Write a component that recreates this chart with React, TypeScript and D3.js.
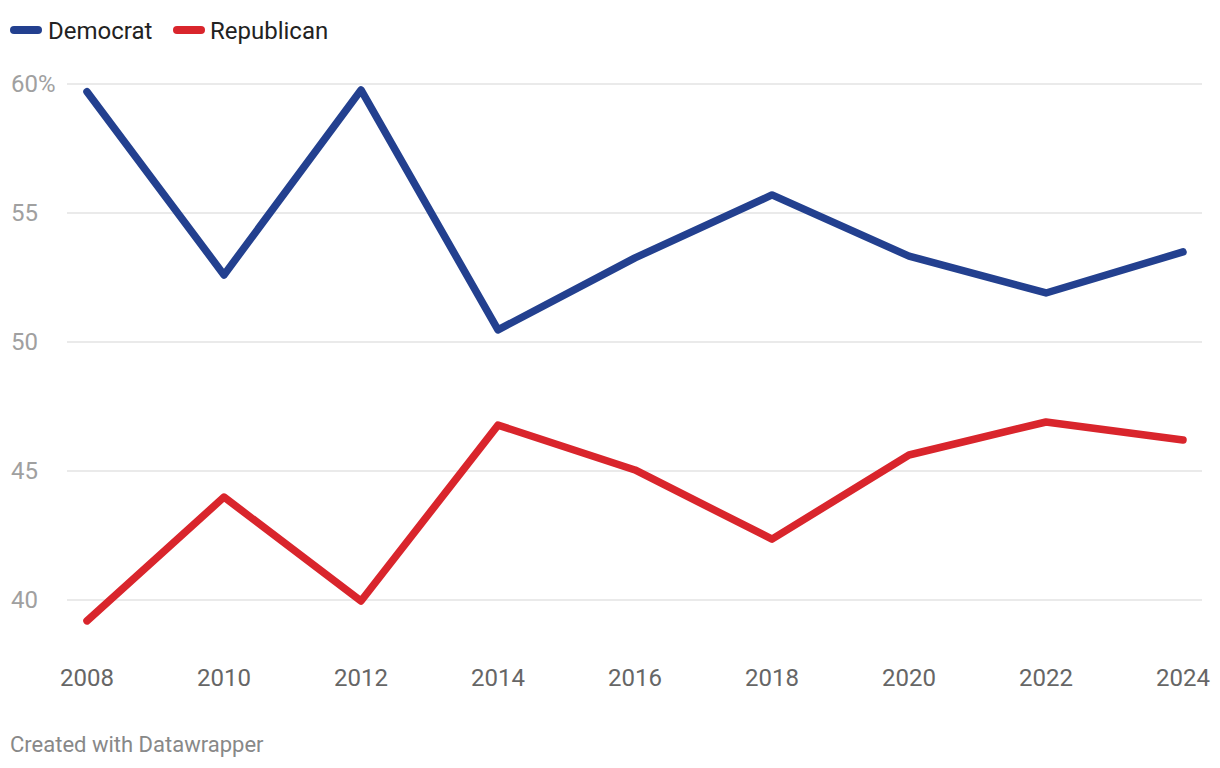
import React from "react";
import * as d3 from "d3";

const years = [2008, 2010, 2012, 2014, 2016, 2018, 2020, 2022, 2024];
const democrat = [59.7, 52.6, 59.77, 50.47, 53.26, 55.7, 53.33, 51.9, 53.49];
const republican = [39.19, 43.99, 39.96, 46.78, 45.04, 42.36, 45.62, 46.9, 46.2];
const yTicks = [40, 45, 50, 55, 60];

const W = 1220;
const H = 768;
const BLUE = "#23408f";
const RED = "#d9252c";

export default function App() {
  const x = d3.scaleLinear().domain([2008, 2024]).range([87, 1183]);
  const y = d3.scaleLinear().domain([40, 60]).range([600, 84]);
  const line = d3
    .line<number>()
    .x((_, i) => x(years[i]))
    .y((d) => y(d));
  const font = "Roboto, 'Noto Sans', sans-serif";
  return (
    <svg
      width={W}
      height={H}
      style={{ position: "absolute", left: 0, top: 0, background: "#fff" }}
      fontFamily={font}
    >
      {/* legend */}
      <line x1={14} x2={38} y1={30} y2={30} stroke={BLUE} strokeWidth={8} strokeLinecap="round" />
      <text x={48} y={38.5} fontSize={24} fill="#222">Democrat</text>
      <line x1={177} x2={201} y1={30} y2={30} stroke={RED} strokeWidth={8} strokeLinecap="round" />
      <text x={210} y={38.5} fontSize={24} fill="#222">Republican</text>

      {/* grid */}
      {yTicks.map((t) => (
        <g key={t}>
          <line x1={67} x2={1202} y1={y(t)} y2={y(t)} stroke="#e3e3e3" strokeWidth={1.5} />
          <text x={11} y={y(t)} dy="0.35em" fontSize={24} fill="#a0a0a0">
            {t === 60 ? "60%" : t}
          </text>
        </g>
      ))}

      {/* x labels */}
      {years.map((yr) => (
        <text key={yr} x={x(yr)} y={686} textAnchor="middle" fontSize={24} fill="#666">
          {yr}
        </text>
      ))}

      <path d={line(republican) || ""} fill="none" stroke={RED} strokeWidth={7.5} strokeLinejoin="round" strokeLinecap="round" />
      <path d={line(democrat) || ""} fill="none" stroke={BLUE} strokeWidth={7.5} strokeLinejoin="round" strokeLinecap="round" />

      <text x={10} y={752} fontSize={22} fill="#888">Created with Datawrapper</text>
    </svg>
  );
}
